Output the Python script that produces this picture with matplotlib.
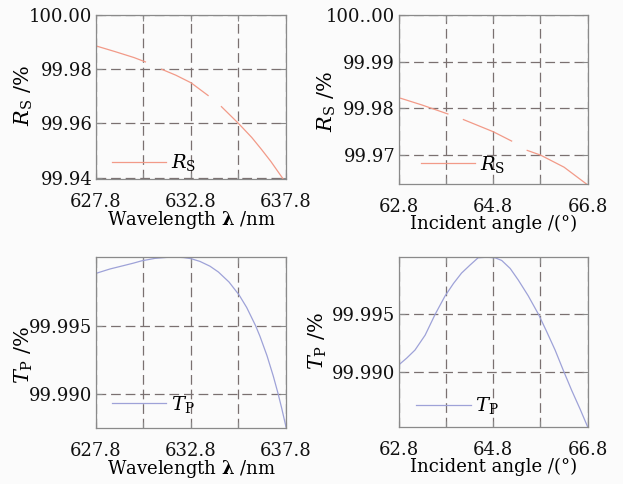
import numpy as np
import matplotlib
matplotlib.use('Agg')
import matplotlib.pyplot as plt
from matplotlib.ticker import FixedLocator, FixedFormatter

plt.rcParams['font.family'] = ['DejaVu Serif']
plt.rcParams['mathtext.fontset'] = 'dejavuserif'
plt.rcParams['lines.scale_dashes'] = False

nan = np.nan
# ---- data ----
wl_rs = [627.8, 628.8, 629.8, 630.4, nan, 631.25, 632.0, 632.8, 633.7, nan,
         634.4, 635.3, 636.0, 636.5, 637.0, 637.7]
rs_wl = [99.9886, 99.9865, 99.9843, 99.9827, nan, 99.9800, 99.9778, 99.9750, 99.9703, nan,
         99.9662, 99.9600, 99.9548, 99.9505, 99.9460, 99.9390]

ang_rs = [62.8, 63.3, 63.84, nan, 64.17, 64.8, 65.19, nan, 65.52, 65.8, 66.3, 66.8]
rs_ang = [99.9823, 99.9807, 99.9788, nan, 99.9776, 99.9750, 99.9730, nan, 99.9710, 99.9700, 99.9674, 99.9636]

wl_tp = [627.8, 628.54, 629.24, 629.76, 630.2, 630.9, 631.52, 632.0, 632.4, 632.8, 633.27,
         633.8, 634.24, 634.8, 635.33, 635.73, 636.2, 636.43, 636.8, 637.13, 637.37, 637.57, 637.8]
tp_wl = [99.99881, 99.99913, 99.99937, 99.99955, 99.99972, 99.99990, 99.99997, 99.99999,
         99.99996, 99.99988, 99.99968, 99.99933, 99.99891, 99.99818, 99.99724, 99.99633,
         99.99500, 99.99423, 99.99282, 99.99134, 99.99013, 99.98902, 99.98764]

ang_tp = [62.8, 62.97, 63.145, 63.36, 63.57, 63.78, 63.96, 64.13, 64.31, 64.48, 64.66, 64.84,
          64.98, 65.16, 65.33, 65.54, 65.76, 65.93, 66.11, 66.28, 66.46, 66.64, 66.8]
tp_ang = [99.9906, 99.9912, 99.9919, 99.9932, 99.9950, 99.9966, 99.9977, 99.9986, 99.9993,
          99.99993, 99.99998, 99.99993, 99.9997, 99.9990, 99.9980, 99.99663, 99.9950, 99.99352,
          99.9919, 99.99017, 99.9884, 99.98675, 99.9852]

wl_ticks = [627.8, 630.3, 632.8, 635.3, 637.8]
wl_labels = ['627.8', '', '632.8', '', '637.8']
ang_ticks = [62.8, 63.8, 64.8, 65.8, 66.8]
ang_labels = ['62.8', '', '64.8', '', '66.8']

rs_wl_ticks = [99.94, 99.96, 99.98, 100.00]
rs_wl_labels = ['99.94', '99.96', '99.98', '100.00']
rs_ang_ticks = [99.97, 99.98, 99.99, 100.00]
rs_ang_labels = ['99.97', '99.98', '99.99', '100..00']
tp_ticks = [99.990, 99.995]
tp_labels = ['99.990', '99.995']

RED = '#f29a88'
BLUE = '#9ea2d8'
GRID = '#7a7070'
SPINE = '#8a8a8a'
BG = '#fbfbfb'

W, H = 623, 484
fig = plt.figure(figsize=(W / 100, H / 100), dpi=100, facecolor=BG)

def box(l, r, t, b):
    return [l / W, 1 - b / H, (r - l) / W, (b - t) / H]

panels = [
    dict(pos=box(96, 286, 15, 179), x=wl_rs, y=rs_wl, c=RED, ylim=(99.9395, 100.0),
         xlim=(627.8, 637.8), xt=wl_ticks, xl=wl_labels, yt=rs_wl_ticks, yl=rs_wl_labels,
         xlabel='Wavelength $\\boldsymbol{\\lambda}$ /nm', ylabel='$R_\\mathrm{S}$ /%',
         leg='$R_\\mathrm{S}$', lxy=(0.084, 0.098), ylxy=(-0.32, 0.51)),
    dict(pos=box(398.7, 587.7, 15, 184), x=ang_rs, y=rs_ang, c=RED, ylim=(99.9638, 100.0),
         xlim=(62.8, 66.8), xt=ang_ticks, xl=ang_labels, yt=rs_ang_ticks, yl=rs_ang_labels,
         xlabel='Incident angle /(°)', ylabel='$R_\\mathrm{S}$ /%',
         leg='$R_\\mathrm{S}$', lxy=(0.118, 0.117), ylxy=(-0.32, 0.49)),
    dict(pos=box(96, 286, 257, 428), x=wl_tp, y=tp_wl, c=BLUE, ylim=(99.98756, 100.0),
         xlim=(627.8, 637.8), xt=wl_ticks, xl=wl_labels, yt=tp_ticks, yl=tp_labels,
         xlabel='Wavelength $\\boldsymbol{\\lambda}$ /nm', ylabel='$T_\\mathrm{P}$ /%',
         leg='$T_\\mathrm{P}$', lxy=(0.084, 0.14), ylxy=(-0.32, 0.43)),
    dict(pos=box(398.7, 587.7, 257, 427), x=ang_tp, y=tp_ang, c=BLUE, ylim=(99.9852, 100.0),
         xlim=(62.8, 66.8), xt=ang_ticks, xl=ang_labels, yt=tp_ticks, yl=tp_labels,
         xlabel='Incident angle /(°)', ylabel='$T_\\mathrm{P}$ /%',
         leg='$T_\\mathrm{P}$', lxy=(0.092, 0.124), ylxy=(-0.37, 0.506)),
]

for p in panels:
    ax = fig.add_axes(p['pos'])
    ax.set_facecolor(BG)
    ax.plot(p['x'], p['y'], color=p['c'], lw=0.9, label=p['leg'])
    ax.set_xlim(*p['xlim'])
    ax.set_ylim(*p['ylim'])
    ax.xaxis.set_major_locator(FixedLocator(p['xt']))
    ax.xaxis.set_major_formatter(FixedFormatter(p['xl']))
    ax.yaxis.set_major_locator(FixedLocator(p['yt']))
    ax.yaxis.set_major_formatter(FixedFormatter(p['yl']))
    ax.grid(True, color=GRID, lw=0.9, linestyle=(0, (7, 3.5)))
    ax.tick_params(direction='in', length=4, width=0.8, colors=SPINE, labelcolor='#111111',
                   labelsize=13, top=True, right=True)
    ax.tick_params(axis='x', pad=10)
    ax.tick_params(axis='y', pad=2.5)
    for s in ax.spines.values():
        s.set_color(SPINE)
        s.set_linewidth(0.9)
    ax.set_xlabel(p['xlabel'], fontsize=13, labelpad=-1)
    ax.set_ylabel(p['ylabel'], fontsize=15)
    ax.yaxis.set_label_coords(*p['ylxy'])
    ax.legend(loc='center left', bbox_to_anchor=p['lxy'], frameon=False, fontsize=14,
              handlelength=2.8, handletextpad=0.25, borderpad=0, borderaxespad=0)

fig.savefig('out.png', dpi=100, facecolor=BG)
